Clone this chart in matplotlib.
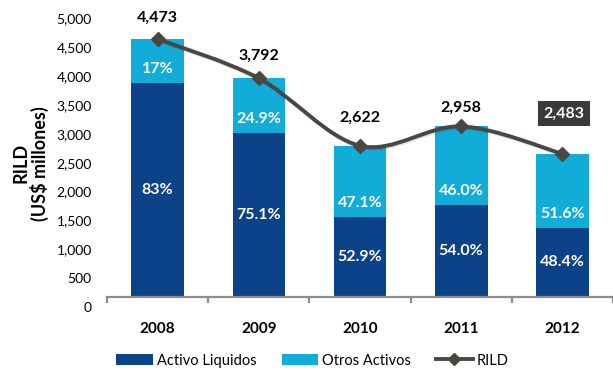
import numpy as np
import matplotlib.pyplot as plt
import matplotlib.transforms as mtransforms
import matplotlib.patheffects as pe
from matplotlib.path import Path
from matplotlib.patches import PathPatch, Patch
from matplotlib.lines import Line2D

# ---------------- data ----------------
years = ['2008', '2009', '2010', '2011', '2012']
rild = [4473, 3792, 2622, 2958, 2483]          # US$ millones
pct_liquidos = [83.0, 75.1, 52.9, 54.0, 48.4]
pct_otros = [17.0, 24.9, 47.1, 46.0, 51.6]
txt_liquidos = ['83%', '75.1%', '52.9%', '54.0%', '48.4%']
txt_otros = ['17%', '24.9%', '47.1%', '46.0%', '51.6%']
yticks = np.arange(0, 5001, 500)

c_dark = '#0b4288'
c_light = '#12acd8'
c_line = '#4a4641'

plt.rcParams['font.family'] = ['Lato', 'DejaVu Sans']

fig = plt.figure(figsize=(6.13, 3.71), dpi=100)
ax = fig.add_axes([0.1746, 0.1995, 0.8254, 0.7773])

x = np.arange(len(years))
rild_arr = np.array(rild, dtype=float)
liq = rild_arr * np.array(pct_liquidos) / 100
otr = rild_arr - liq

ax.bar(x, liq, width=0.52, color=c_dark, zorder=2)
ax.bar(x, otr, width=0.52, bottom=liq, color=c_light, zorder=2)

# percentage labels inside the segments
for i in range(len(years)):
    ax.text(x[i], liq[i] / 2, txt_liquidos[i], color='white', fontsize=11.5,
            fontweight='bold', ha='center', va='center', zorder=3)
    ax.annotate(txt_otros[i], (x[i], liq[i]), xytext=(0, 5), textcoords='offset points',
                color='white', fontsize=11.5, fontweight='bold',
                ha='center', va='bottom', zorder=3)

# smoothed RILD line (Catmull-Rom as cubic beziers)
pts = np.column_stack([x, rild_arr])
ext = np.vstack([pts[0], pts, pts[-1]])
verts = [tuple(pts[0])]
codes = [Path.MOVETO]
for k in range(1, len(ext) - 2):
    p0, p1, p2, p3 = ext[k - 1], ext[k], ext[k + 1], ext[k + 2]
    c1 = p1 + (p2 - p0) / 6
    c2 = p2 - (p3 - p1) / 6
    verts += [tuple(c1), tuple(c2), tuple(p2)]
    codes += [Path.CURVE4] * 3
curve = PathPatch(Path(verts, codes), facecolor='none', edgecolor=c_line, lw=2.8,
                  zorder=4, capstyle='round',
                  path_effects=[pe.SimpleLineShadow(offset=(0.8, -1), alpha=0.12), pe.Normal()])
ax.add_patch(curve)
ax.plot(x, rild_arr, linestyle='none', marker='D', markersize=7, color=c_line, zorder=5)

# value labels above the line
label_offsets = [10, 11, 15, 8, 24]
for i in range(len(years)):
    if i == len(years) - 1:
        ax.annotate(f'{rild[i]:,}', (x[i], rild_arr[i]), xytext=(1, label_offsets[i]),
                    textcoords='offset points', ha='center', va='bottom',
                    fontsize=11.5, fontweight='bold', color='white', zorder=6,
                    bbox=dict(boxstyle='square,pad=0.33', facecolor='#3a3a3a', edgecolor='none'))
    else:
        ax.annotate(f'{rild[i]:,}', (x[i], rild_arr[i]), xytext=(0, label_offsets[i]),
                    textcoords='offset points', ha='center', va='bottom',
                    fontsize=11.5, fontweight='bold', color='black', zorder=6)

# axes styling
ax.set_xlim(-0.5, len(years) - 0.5)
ax.set_ylim(0, 5000)
for s in ['top', 'right', 'left']:
    ax.spines[s].set_visible(False)
ax.spines['bottom'].set_color('#8c8c8c')
ax.spines['bottom'].set_linewidth(1.6)

ax.set_yticks(yticks)
ax.set_yticklabels([f'{v:,}' for v in yticks], fontsize=10)
ax.tick_params(axis='y', length=0, pad=11)
shift = mtransforms.ScaledTranslation(0, -0.10, fig.dpi_scale_trans)
for lab in ax.get_yticklabels():
    lab.set_transform(lab.get_transform() + shift)

ax.set_xticks(x)
ax.set_xticklabels(years, fontsize=11, fontweight='bold')
ax.set_xticks(np.arange(-0.5, len(years)), minor=True)
ax.tick_params(axis='x', which='major', length=0, pad=18)
ax.tick_params(axis='x', which='minor', length=4, width=1.6, color='#8c8c8c')

fig.text(0.05, 0.56, 'RILD\n(US$ millones)', rotation=90, ha='center', va='center',
         fontsize=13, fontweight='bold', linespacing=1.05)

handles = [Patch(facecolor=c_dark), Patch(facecolor=c_light),
           Line2D([], [], color=c_line, lw=2.8, marker='D', markersize=6)]
fig.legend(handles, ['Activo Liquidos', 'Otros Activos', 'RILD'], ncol=3, frameon=False,
           loc='center', bbox_to_anchor=(0.51, 0.028), fontsize=10.5,
           handlelength=2.5, handleheight=0.75, handletextpad=0.3, columnspacing=1.7)

fig.savefig('out.png', dpi=100)
